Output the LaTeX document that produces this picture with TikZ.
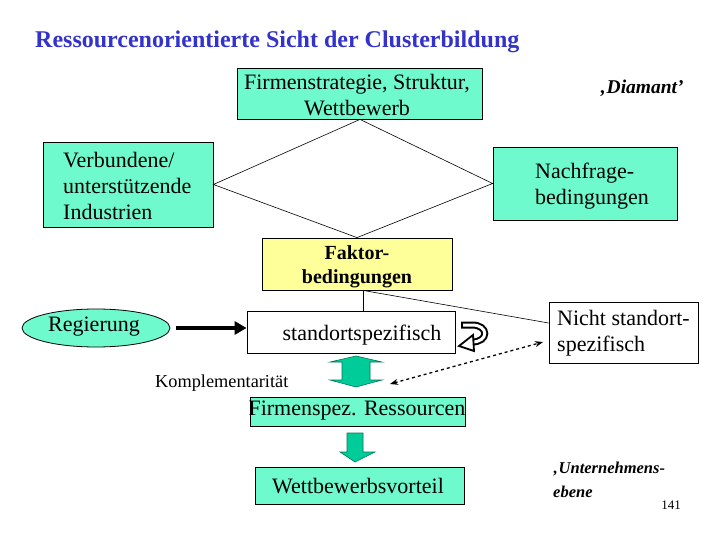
\documentclass[tikz,border=0pt]{standalone}
\usepackage{fontspec}
\setmainfont{Liberation Serif}
\usetikzlibrary{shapes.geometric,arrows.meta}
\definecolor{aqua}{HTML}{6EFACC}
\definecolor{paleyellow}{HTML}{FFFF99}
\definecolor{titleblue}{HTML}{3333CC}
\definecolor{blockgreen}{HTML}{00CC99}
\definecolor{blockedge}{HTML}{007755}
\begin{document}
\begin{tikzpicture}[x=1pt,y=-1pt,
  box/.style={draw=black, line width=0.8pt, inner sep=0pt, rectangle},
  aquabox/.style={box, fill=aqua},
  txt/.style={inner sep=0pt, font=\fontsize{22}{26}\selectfont},
  thinline/.style={draw=black, line width=0.6pt},
  blockarrow/.style={fill=blockgreen, draw=blockedge, line width=0.6pt},
  emph/.style={inner sep=0pt, font=\bfseries\itshape\fontsize{16.5}{24}\selectfont}
]
\useasboundingbox[fill=white] (0,0) rectangle (720,540);

% title
\node[anchor=base west, inner sep=0pt, text=titleblue, font=\bfseries\fontsize{24}{28}\selectfont] (title) at (35,48) {Ressourcenorientierte Sicht der Clusterbildung};

% diamond boxes
\node[aquabox, minimum width=245, minimum height=51] (firm) at (360,93.5) {};
\node[txt, align=center] (firmt) at (357,95) {Firmenstrategie, Struktur,\\Wettbewerb};
\node[emph, anchor=west, font=\bfseries\itshape\fontsize{19.5}{24}\selectfont] (diam) at (600,88) {‚Diamant’};

\node[aquabox, minimum width=170, minimum height=85] (verb) at (128,184.5) {};
\node[txt, align=left, anchor=west] (verbt) at (63,186) {Verbundene/\\unterstützende\\Industrien};

\node[aquabox, minimum width=184, minimum height=73] (nach) at (585,183.5) {};
\node[txt, align=left, anchor=west] (nacht) at (535,186) {Nachfrage-\\bedingungen};

\node[box, fill=paleyellow, minimum width=190, minimum height=52] (fak) at (357,264) {};
\node[inner sep=0pt, align=center, font=\bfseries\fontsize{20}{24}\selectfont] (fakt) at (357,267) {Faktor-\\bedingungen};

\draw[thinline] (firm.south) -- (verb.east) -- (fak.north) -- (nach.west) -- (firm.south);

% middle row
\node[ellipse, draw=black, line width=0.8pt, fill=aqua, minimum width=148, minimum height=38, inner sep=0pt] (reg) at (96,328) {};
\node[txt] (regt) at (94,327) {Regierung};

\node[box, fill=white, minimum width=208, minimum height=42] (stand) at (351,332) {};
\node[txt] (standt) at (362,335) {standortspezifisch};

\node[box, fill=white, minimum width=149, minimum height=61] (nicht) at (623.5,332.5) {};
\node[txt, align=left, anchor=west] (nichtt) at (557,333) {Nicht standort-\\spezifisch};

\coordinate (fakb) at (363,290.4);
\draw[thinline] (fakb) -- (fakb |- stand.north);
\draw[thinline] (fakb) -- (nicht.west |- 0,323);

\draw[line width=4pt, shorten <=6pt, -{Triangle[length=12pt,width=13pt]}] (reg.east) -- (reg.east -| stand.west);

% U-turn hollow arrow
\draw[line width=7pt] (461,325) -- (472,325) .. controls (489,325) and (489,342) .. (472,342);
\draw[line width=3pt, white, shorten <=2pt] (461,325) -- (472,325) .. controls (489,325) and (489,342) .. (472,342);
\draw[line width=1.8pt, fill=white, line join=miter] (473,335) -- (459,346) -- (474,351) -- cycle;

% dashed double arrow
\coordinate (dA) at (390,384);
\coordinate (dB) at (543,342);
\draw[dashed, line width=1.3pt, {Stealth[length=8pt,width=6pt]}-{Stealth[length=8pt,width=6pt]}] (dA) -- (dB);

% up-down block arrow
\draw[blockarrow] (356,356) -- (330,362) -- (342,362) -- (342,380) -- (330,380) -- (356,387) -- (382,380) -- (370,380) -- (370,362) -- (382,362) -- cycle;

\node[inner sep=0pt, font=\fontsize{18.3}{22}\selectfont, anchor=west] (kompl) at (155,383) {Komplementarität};

\node[aquabox, minimum width=215, minimum height=29] (fres) at (357.5,411.5) {};
\node[txt] (frest) at (357,411) {Firmenspez. Ressourcen};

% down block arrow
\draw[blockarrow] (347,433) -- (363,433) -- (363,452) -- (375,452) -- (355,462) -- (340,452) -- (347,452) -- cycle;

\node[aquabox, minimum width=209, minimum height=37] (wett) at (359.5,485.5) {};
\node[txt] (wettt) at (358,486) {Wettbewerbsvorteil};

\node[emph, align=left, anchor=west] (unt) at (553,480) {‚Unternehmens-\\ebene};
\node[inner sep=0pt, font=\fontsize{13}{15}\selectfont] (num) at (671,505) {141};
\end{tikzpicture}
\end{document}
